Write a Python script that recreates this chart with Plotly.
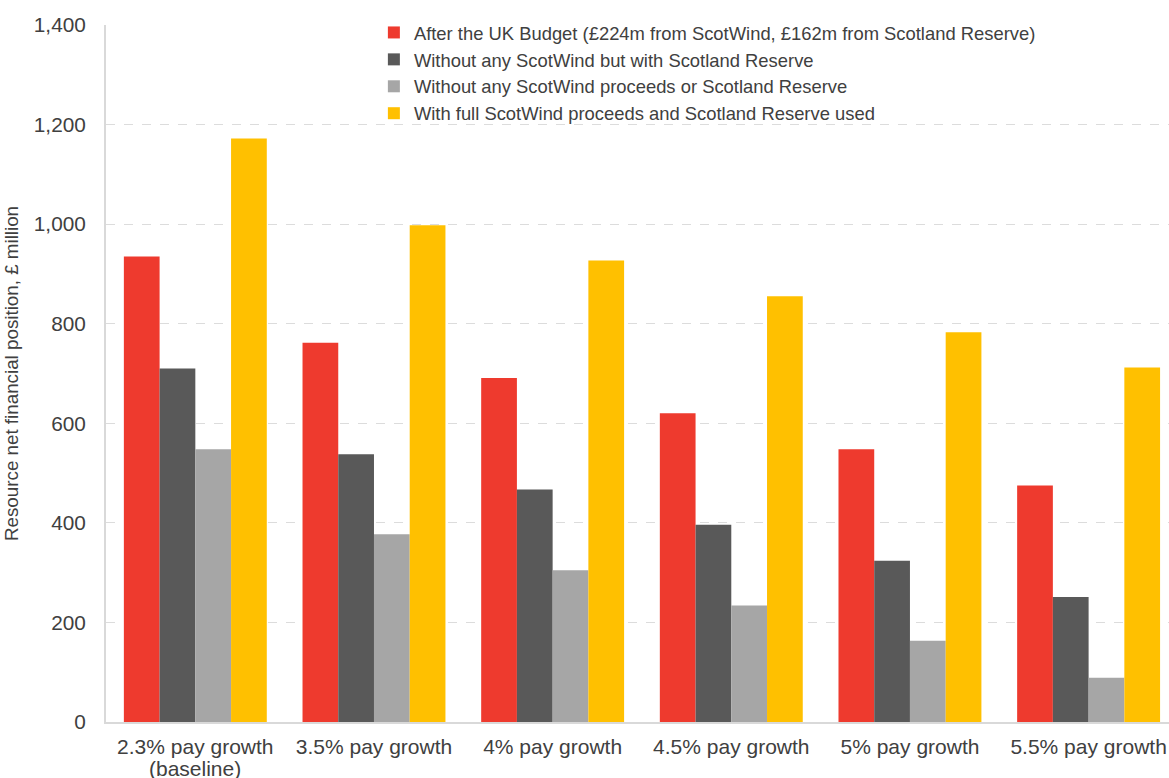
import plotly.graph_objects as go

categories = ["2.3% pay growth", "3.5% pay growth", "4% pay growth",
              "4.5% pay growth", "5% pay growth", "5.5% pay growth"]
category_notes = ["(baseline)", "", "", "", "", ""]
after_budget = [935, 762, 691, 620, 548, 475]
without_scotwind = [710, 538, 467, 396, 324, 251]
without_both = [548, 377, 305, 234, 163, 89]
full_used = [1172, 998, 927, 855, 783, 712]

series_names = [
    "After the UK Budget (£224m from ScotWind, £162m from Scotland Reserve)",
    "Without any ScotWind but with Scotland Reserve",
    "Without any ScotWind proceeds or Scotland Reserve",
    "With full ScotWind proceeds and Scotland Reserve used",
]
series_values = [after_budget, without_scotwind, without_both, full_used]
colors = ["#EE3A2E", "#595959", "#A6A6A6", "#FFC000"]

font_family = "Liberation Sans, Arial, sans-serif"
text_color = "#404040"

fig = go.Figure()
for name, vals, col in zip(series_names, series_values, colors):
    fig.add_trace(go.Bar(
        x=list(range(len(categories))), y=vals, name=name,
        marker=dict(color=col, line=dict(width=0)),
    ))

for i, note in enumerate(category_notes):
    if note:
        fig.add_annotation(
            x=i, xref="x", y=-0.066, yref="paper", yanchor="middle",
            text=note, showarrow=False, borderpad=0,
            font=dict(size=21, color=text_color, family=font_family),
        )

fig.update_layout(
    width=1169, height=778,
    margin=dict(l=106, r=0, t=25, b=56, autoexpand=False),
    paper_bgcolor="white", plot_bgcolor="white",
    barmode="group", bargap=0.2, bargroupgap=0,
    font=dict(family=font_family, color=text_color, size=20),
    showlegend=True,
    legend=dict(
        x=0.252, y=1.0158, xanchor="left", yanchor="top",
        bgcolor="rgba(0,0,0,0)", font=dict(size=18.4, color=text_color),
        traceorder="normal", tracegroupgap=0,
    ),
    xaxis=dict(
        tickmode="array", tickvals=list(range(len(categories))), ticktext=categories,
        range=[-0.5, 5.45], showgrid=False, showline=True, linecolor="#d9d9d9",
        linewidth=2, ticks="", tickfont=dict(size=21, color=text_color),
        zeroline=False, automargin=False, ticklabelstandoff=5,
    ),
    yaxis=dict(
        range=[0, 1400], tickvals=[0, 200, 400, 600, 800, 1000, 1200, 1400],
        tickformat=",d", showgrid=True, gridcolor="#dcdcdc", griddash="dash",
        gridwidth=1, showline=True, linecolor="#d9d9d9", linewidth=2,
        zeroline=False, ticks="", ticklabelstandoff=14, automargin=False,
        tickfont=dict(size=20.8, color=text_color),
        title=dict(text="Resource net financial position, £ million",
                   font=dict(size=18.8, color=text_color), standoff=10),
    ),
)

fig.write_html(
    "out.html",
    config={"displayModeBar": False},
    post_script="document.body.style.margin='0';document.body.style.overflow='hidden';",
)
